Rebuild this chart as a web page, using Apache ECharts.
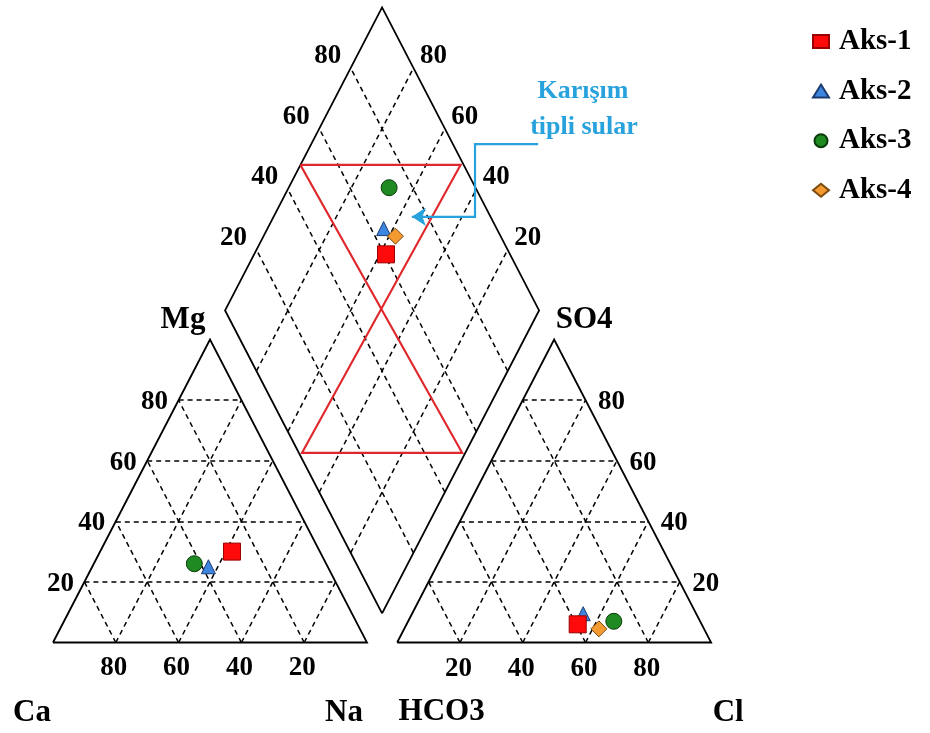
<!DOCTYPE html>
<html><head><meta charset="utf-8">
<script src="https://cdn.jsdelivr.net/npm/echarts@6/dist/echarts.min.js"></script>
<style>html,body{margin:0;padding:0;background:#fff}#c{width:930px;height:733px}</style>
</head><body><div id="c"></div>
<script>
// ---------- data (percent meq/l) ----------
const samples = ['Aks-1', 'Aks-2', 'Aks-3', 'Aks-4'];
const naK  = [42, 37, 32, 42];
const mg   = [30, 25, 26, 30];
const ca   = [28, 38, 42, 28];
const hco3 = [39.5, 36, 27.5, 33.5];
const so4  = [6, 9.5, 7, 4.5];
const cl   = [54.5, 54.5, 65.5, 62];
const ticks = [20, 40, 60, 80];
// "Karışım tipli sular" zone, vertices as [Na+K %, HCO3 %] in the diamond
const mixZone = [[0, 52], [51, 1], [48, 99], [99, 48], [0, 52]];
// callout arrow path in plot units
const calloutPath = [[154.5, 164.5], [134.4, 164.5], [134.4, 140.5], [114.3, 140.5]];

// ---------- geometry ----------
const OFF = 109.6;                 // x offset of anion triangle
const cat = (na, m) => [na + m / 2, m];
const an  = (c, s) => [OFF + c + s / 2, s];
const dia = (na, h) => [(na + OFF + 100 - h) / 2, OFF + 100 - h - na];

const PXU = 3.14, X0 = 53, PYU = 3.03, Y0 = 642.5, W = 930, H = 733;

const FONT = 'Liberation Serif';
const seg = (a, b) => ({ coords: [a, b] });
const gridSegs = [];
ticks.forEach(k => {
  gridSegs.push(seg(cat(0, k), cat(100 - k, k)));
  gridSegs.push(seg(cat(k, 0), cat(k, 100 - k)));
  gridSegs.push(seg(cat(100 - k, 0), cat(0, 100 - k)));
  gridSegs.push(seg(an(0, k), an(100 - k, k)));
  gridSegs.push(seg(an(k, 0), an(k, 100 - k)));
  gridSegs.push(seg(an(100 - k, 0), an(0, 100 - k)));
  gridSegs.push(seg(dia(k, 100), dia(k, 0)));
  gridSegs.push(seg(dia(100, k), dia(0, k)));
});
const outlines = [
  { coords: [cat(0, 0), cat(100, 0), cat(0, 100), cat(0, 0)] },
  { coords: [an(0, 0), an(100, 0), an(0, 100), an(0, 0)] },
  { coords: [dia(100, 100), dia(0, 100), dia(0, 0), dia(100, 0), dia(100, 100)] }
];

function labelSeries(points, offset, size) {
  return {
    type: 'scatter', silent: true, symbolSize: 1, z: 6,
    itemStyle: { color: 'rgba(255,255,255,0)' },
    data: points.map(p => ({ value: p.pos, name: p.text })),
    label: {
      show: true, position: 'inside', offset: offset, formatter: '{b}',
      fontFamily: FONT, fontWeight: 'bold', fontSize: size, color: '#000',
      textBorderWidth: 0, opacity: 1
    }
  };
}

const styles = {
  'Aks-1': { symbol: 'rect', size: 17, color: '#ff0a0a', border: '#9a0000' },
  'Aks-2': { symbol: 'triangle', size: 14, color: '#3d86e0', border: '#1c3a70' },
  'Aks-3': { symbol: 'circle', size: 16, color: '#1f8a22', border: '#0b3a0b' },
  'Aks-4': { symbol: 'diamond', size: 16, color: '#f39a30', border: '#7a4a10' }
};
const drawOrder = [2, 1, 3, 0];
const sampleSeries = drawOrder.map(i => {
  const st = styles[samples[i]];
  return {
    type: 'scatter', name: samples[i], z: 5,
    symbol: st.symbol, symbolSize: st.size,
    itemStyle: { color: st.color, borderColor: st.border, borderWidth: 1, opacity: 1 },
    data: [cat(naK[i], mg[i]), an(cl[i], so4[i]), dia(naK[i], hco3[i])]
  };
});

const BLUE = '#27a2dc';
const option = {
  animation: false,
  backgroundColor: '#fff',
  grid: { left: 0, right: 0, top: 0, bottom: 0 },
  xAxis: { type: 'value', min: -X0 / PXU, max: (W - X0) / PXU, show: false },
  yAxis: { type: 'value', min: (Y0 - H) / PYU, max: Y0 / PYU, show: false },
  legend: {
    data: samples, orient: 'vertical', left: 807, top: 22,
    itemWidth: 16, itemHeight: 13, itemGap: 20.6,
    textStyle: { fontFamily: FONT, fontWeight: 'bold', fontSize: 29, color: '#000',
                 lineHeight: 26, padding: [0, 0, 0, 5] }
  },
  graphic: [
    { type: 'text', x: 583, y: 91, style: { text: 'Karışım', align: 'center', verticalAlign: 'middle',
      font: 'bold 26px "Liberation Serif"', fill: BLUE } },
    { type: 'text', x: 584, y: 127, style: { text: 'tipli sular', align: 'center', verticalAlign: 'middle',
      font: 'bold 26px "Liberation Serif"', fill: BLUE } }
  ],
  series: [
    { type: 'lines', coordinateSystem: 'cartesian2d', silent: true, z: 1,
      lineStyle: { color: '#000', width: 1.5, type: [5, 4], opacity: 1 }, data: gridSegs },
    { type: 'lines', coordinateSystem: 'cartesian2d', polyline: true, silent: true, z: 2,
      lineStyle: { color: '#000', width: 1.8, opacity: 1 }, data: outlines },
    { type: 'lines', coordinateSystem: 'cartesian2d', polyline: true, silent: true, z: 3,
      lineStyle: { color: '#e0282c', width: 2.2, opacity: 1 },
      data: [{ coords: mixZone.map(p => dia(p[0], p[1])) }] },
    { type: 'lines', coordinateSystem: 'cartesian2d', polyline: true, silent: true, z: 4,
      lineStyle: { color: BLUE, width: 2.2, opacity: 1 },
      data: [{ coords: calloutPath }] },
    { type: 'lines', coordinateSystem: 'cartesian2d', silent: true, z: 4,
      symbol: ['none', 'arrow'], symbolSize: [11, 14],
      lineStyle: { color: BLUE, width: 2.2, opacity: 1 },
      data: [{ coords: calloutPath.slice(-2) }] },
    ...sampleSeries,
    labelSeries(ticks.map(k => ({ pos: cat(0, k), text: String(k) })), [-24, 2], 27),
    labelSeries(ticks.map(k => ({ pos: cat(100 - k, 0), text: String(k) })), [-2, 26], 27),
    labelSeries(ticks.map(k => ({ pos: an(100 - k, k), text: String(k) })), [26, 2], 27),
    labelSeries(ticks.map(k => ({ pos: an(k, 0), text: String(k) })), [-1.5, 27], 27),
    labelSeries(ticks.map(k => ({ pos: dia(0, 100 - k), text: String(k) })), [-23, -12], 27),
    labelSeries(ticks.map(k => ({ pos: dia(100 - k, 0), text: String(k) })), [20, -12], 27),
    labelSeries([{ pos: cat(0, 0), text: 'Ca' }], [-21, 70.5], 31),
    labelSeries([{ pos: cat(100, 0), text: 'Na' }], [-23, 70.5], 31),
    labelSeries([{ pos: an(0, 0), text: 'HCO3' }], [44.5, 69.5], 31),
    labelSeries([{ pos: an(100, 0), text: 'Cl' }], [17, 70.5], 31),
    labelSeries([{ pos: cat(0, 100), text: 'Mg' }], [-27, -19.5], 31),
    labelSeries([{ pos: an(0, 100), text: 'SO4' }], [30, -19.5], 31)
  ]
};
const chart = echarts.init(document.getElementById('c'), null, { renderer: 'canvas' });
chart.setOption(option);
</script></body></html>
